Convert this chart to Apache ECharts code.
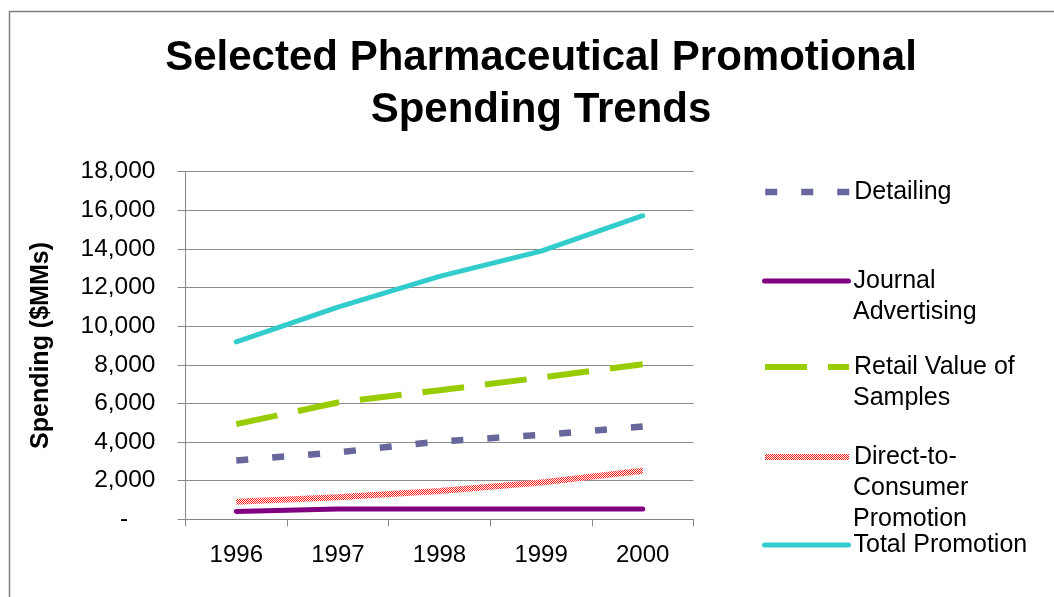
<!DOCTYPE html>
<html>
<head>
<meta charset="utf-8">
<script src="https://cdn.jsdelivr.net/npm/echarts@6/dist/echarts.min.js"></script>
<style>
html,body{margin:0;padding:0;background:#fff;}
#chart{width:1054px;height:597px;}
</style>
</head>
<body>
<div id="chart"></div>
<script>
const titleText = 'Selected Pharmaceutical Promotional\nSpending Trends';
const yAxisTitle = 'Spending ($MMs)';
const years = ['1996', '1997', '1998', '1999', '2000'];
const detailing = [3050, 3470, 4030, 4370, 4810];
const journalAdvertising = [410, 535, 535, 535, 535];
const retailSamples = [4930, 6050, 6680, 7340, 8030];
const dtcPromotion = [910, 1140, 1460, 1910, 2510];
const totalPromotion = [9190, 10990, 12580, 13890, 15720];
const yTicks = {min: 0, max: 18000, interval: 2000};

const seriesNames = ['Detailing', 'Journal Advertising', 'Retail Value of Samples', 'Direct-to-Consumer Promotion', 'Total Promotion'];
const legendFirstLines = ['Detailing', 'Journal', 'Retail Value of', 'Direct-to-', 'Total Promotion'];
const legendMoreLines = [[], ['Advertising'], ['Samples'], ['Consumer', 'Promotion'], []];

// dithered red pattern for DTC
function makePattern() {
  const c = document.createElement('canvas');
  c.width = 2; c.height = 2;
  const ctx = c.getContext('2d');
  ctx.fillStyle = '#ffffff';
  ctx.fillRect(0, 0, 2, 2);
  ctx.fillStyle = '#ff1a1a';
  ctx.fillRect(0, 0, 1, 1);
  ctx.fillRect(1, 1, 1, 1);
  return {image: c, repeat: 'repeat'};
}

const seriesStyles = [
  {color: '#67679b', width: 6.5, type: [12, 24], cap: 'butt'},
  {color: '#800080', width: 5, type: 'solid', cap: 'round', join: 'round'},
  {color: '#99cc00', width: 6, type: [42, 21], cap: 'butt'},
  {color: makePattern(), width: 6, type: 'solid', cap: 'butt'},
  {color: '#33cccc', width: 5, type: 'solid', cap: 'round', join: 'round'}
];
const legendStyles = [
  {color: '#67679b', width: 6.5, type: [12, 24], cap: 'butt'},
  {color: '#800080', width: 5, type: 'solid', cap: 'round'},
  {color: '#99cc00', width: 6, type: [42, 21], cap: 'butt'},
  {color: makePattern(), width: 6, type: 'solid', cap: 'butt'},
  {color: '#33cccc', width: 5, type: 'solid', cap: 'round'}
];
const seriesData = [detailing, journalAdvertising, retailSamples, dtcPromotion, totalPromotion];
const itemColors = ['#67679b', '#800080', '#99cc00', '#ff0000', '#33cccc'];

const chart = echarts.init(document.getElementById('chart'), null, {renderer: 'canvas'});
const font = 'Liberation Sans, Arial, Helvetica, sans-serif';

const legendCenters = [192, 281, 367, 457, 545];
const legendLeft = 762;
const legendItemW = 84;
const legendTextX = 853;
const legendLineH = 31;

const legends = seriesNames.map((n, i) => ({
  left: legendLeft,
  top: legendCenters[i] - legendLineH / 2,
  padding: 0,
  itemWidth: legendItemW,
  itemHeight: 8,
  itemGap: 0,
  data: [n],
  formatter: () => legendFirstLines[i],
  lineStyle: legendStyles[i],
  itemStyle: {color: 'rgba(0,0,0,0)', borderWidth: 0, opacity: 0},
  textStyle: {fontFamily: font, fontSize: 25, color: '#000', lineHeight: legendLineH},
  selectedMode: false
}));

const graphics = [
  {type: 'rect', left: 7, top: 9, shape: {x: 0, y: 0, width: 1100, height: 620},
   style: {fill: 'none', stroke: '#808080', lineWidth: 1.5}, silent: true, z: -1}
];
legendMoreLines.forEach((lines, i) => {
  lines.forEach((t, j) => {
    graphics.push({type: 'text', left: legendTextX, top: legendCenters[i] + legendLineH * (j + 1) - legendLineH / 2,
      style: {text: t, font: '25px ' + font, fill: '#000', lineHeight: legendLineH, verticalAlign: 'top'}, silent: true});
  });
});

function fmtY(v) {
  if (v === 0) return '-    ';
  return v.toLocaleString('en-US');
}

const option = {
  animation: false,
  backgroundColor: '#fff',
  title: {
    text: titleText,
    left: 536,
    textAlign: 'center',
    top: 27,
    textStyle: {fontFamily: font, fontSize: 42, fontWeight: 'bold', color: '#000', lineHeight: 52}
  },
  legend: legends,
  graphic: graphics,
  grid: {left: 185.5, right: 360.5, top: 171.7, bottom: 77.7, containLabel: false},
  xAxis: {
    type: 'category',
    data: years,
    boundaryGap: true,
    axisLine: {lineStyle: {color: '#868686', width: 1}},
    axisTick: {show: true, length: 7, lineStyle: {color: '#868686'}},
    axisLabel: {fontFamily: font, fontSize: 24, color: '#000', margin: 24},
    splitLine: {show: false}
  },
  yAxis: {
    type: 'value',
    min: yTicks.min, max: yTicks.max, interval: yTicks.interval,
    name: yAxisTitle,
    nameLocation: 'middle',
    nameRotate: 90,
    nameGap: 132,
    nameTextStyle: {fontFamily: font, fontSize: 25, fontWeight: 'bold', color: '#000'},
    axisLine: {show: true, lineStyle: {color: '#868686', width: 1}},
    axisTick: {show: true, length: 8, lineStyle: {color: '#868686'}},
    axisLabel: {fontFamily: font, fontSize: 24.5, color: '#000', margin: 30, formatter: fmtY},
    splitLine: {show: true, lineStyle: {color: '#8c8c8c', width: 1}}
  },
  series: seriesNames.map((n, i) => ({
    name: n, type: 'line', data: seriesData[i], symbol: 'none', z: i === 1 ? 4 : 3,
    lineStyle: seriesStyles[i], itemStyle: {color: itemColors[i]}
  }))
};
chart.setOption(option);
</script>
</body>
</html>
